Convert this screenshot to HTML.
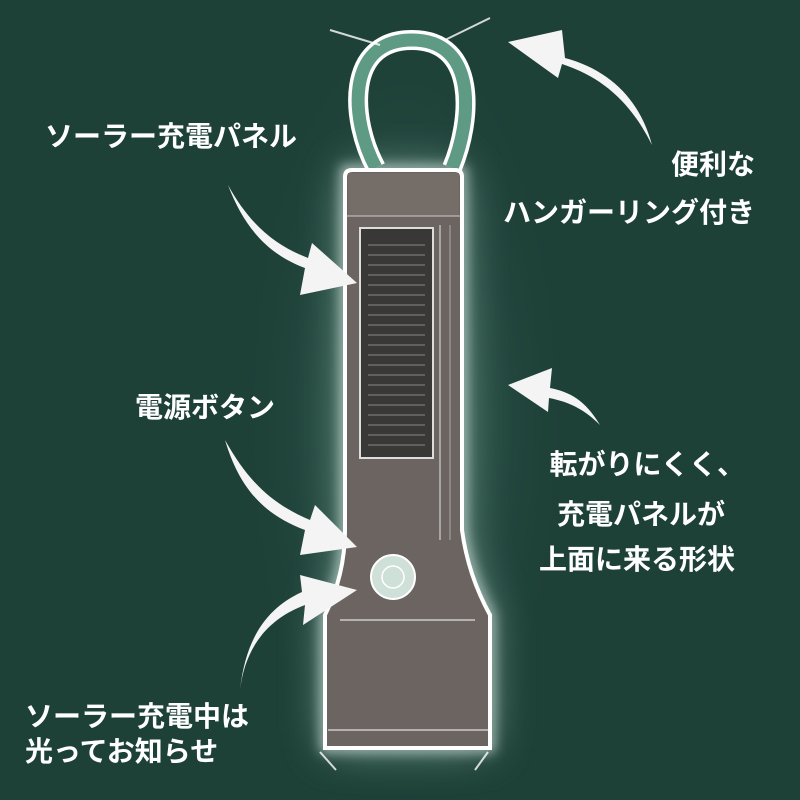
<!DOCTYPE html>
<html><head><meta charset="utf-8"><style>
html,body{margin:0;padding:0}
body{width:800px;height:800px;background:#1d4037;position:relative;overflow:hidden;font-family:"Liberation Sans","Noto Sans CJK JP",sans-serif}
.t{position:absolute;color:#fff;font-weight:bold;font-size:28px;line-height:36px;white-space:nowrap}
</style></head><body>
<svg width="800" height="800" style="position:absolute;left:0;top:0">
<defs>
<radialGradient id="g" cx="50%" cy="50%" r="50%">
<stop offset="0" stop-color="#4a776b" stop-opacity="0.9"/>
<stop offset="1" stop-color="#1d4037" stop-opacity="0"/>
</radialGradient>
<filter id="b" x="-50%" y="-50%" width="200%" height="200%"><feGaussianBlur stdDeviation="22"/></filter>
<filter id="b2" x="-50%" y="-50%" width="200%" height="200%"><feGaussianBlur stdDeviation="6"/></filter>
</defs>
<ellipse cx="405" cy="420" rx="170" ry="420" fill="url(#g)"/>
<path d="M345 170 H462 V530 Q468 575 490 615 V748 H325 V615 Q345 575 345 530 Z" fill="#86aaa0" filter="url(#b)" opacity="0.8"/>
<path d="M345 170 H462 V530 Q468 575 490 615 V748 H325 V615 Q345 575 345 530 Z" fill="none" stroke="#dfeee8" stroke-width="8" filter="url(#b2)" opacity="0.8"/>
<!-- ring -->
<path d="M376 168 C350 120 345 40 412 40 C478 40 472 120 452 168" fill="none" stroke="#fff" stroke-width="20"/>
<path d="M376 168 C350 120 345 40 412 40 C478 40 472 120 452 168" fill="none" stroke="#5e9a84" stroke-width="13"/>
<!-- body -->
<path d="M352 170 H455 Q462 170 462 177 V530 Q468 575 490 615 V748 H325 V615 Q345 575 345 530 V177 Q345 170 352 170 Z" fill="#6b6460" stroke="#fff" stroke-width="4"/>
<rect x="348" y="173" width="111" height="43" fill="#746d68"/>
<line x1="347" y1="216" x2="460" y2="216" stroke="#ccc" stroke-width="1"/>
<line x1="440" y1="225" x2="440" y2="540" stroke="#bbb" stroke-width="1.5"/>
<line x1="450" y1="225" x2="450" y2="540" stroke="#aaa" stroke-width="1"/>
<rect x="360" y="228" width="73" height="230" fill="#3a3836" stroke="#ddd" stroke-width="2"/>
<g stroke="#777" stroke-width="1.2">
<line x1="368" y1="245" x2="425" y2="245"/><line x1="368" y1="255" x2="425" y2="255"/><line x1="368" y1="265" x2="425" y2="265"/><line x1="368" y1="275" x2="425" y2="275"/><line x1="368" y1="285" x2="425" y2="285"/><line x1="368" y1="295" x2="425" y2="295"/><line x1="368" y1="305" x2="425" y2="305"/><line x1="368" y1="315" x2="425" y2="315"/><line x1="368" y1="325" x2="425" y2="325"/><line x1="368" y1="335" x2="425" y2="335"/><line x1="368" y1="345" x2="425" y2="345"/><line x1="368" y1="355" x2="425" y2="355"/><line x1="368" y1="365" x2="425" y2="365"/><line x1="368" y1="375" x2="425" y2="375"/><line x1="368" y1="385" x2="425" y2="385"/><line x1="368" y1="395" x2="425" y2="395"/><line x1="368" y1="405" x2="425" y2="405"/><line x1="368" y1="415" x2="425" y2="415"/><line x1="368" y1="425" x2="425" y2="425"/><line x1="368" y1="435" x2="425" y2="435"/><line x1="368" y1="445" x2="425" y2="445"/>
</g>
<line x1="340" y1="620" x2="475" y2="620" stroke="#ccc" stroke-width="1.5"/>
<line x1="328" y1="730" x2="488" y2="730" stroke="#ccc" stroke-width="1.5"/>
<circle cx="393" cy="577" r="22" fill="#cfe0d8" stroke="#fff" stroke-width="2"/>
<circle cx="393" cy="577" r="11" fill="none" stroke="#fff" stroke-width="1.5"/>
<!-- arrows -->
<g fill="#f4f4f4">
<path d="M652 145 C640 100 610 70 565 58 L562 30 L508 42 L558 78 L562 64 C605 78 632 105 652 145 Z"/>
<path d="M228 185 C245 230 270 255 305 268 L300 295 L357 283 L312 243 L308 258 C275 245 250 225 228 185 Z"/>
<path d="M225 440 C240 490 265 515 305 530 L300 555 L357 547 L315 505 L310 520 C275 505 250 485 225 440 Z"/>
<path d="M240 690 C245 650 265 620 305 605 L303 625 L357 590 L300 575 L302 592 C262 610 245 645 240 690 Z"/>
<path d="M600 425 C585 400 570 392 550 388 L552 368 L508 385 L548 412 L549 398 C570 402 585 410 600 425 Z"/>
</g>
<path d="M320 752 L336 770 M488 752 L475 770 M330 30 L380 45 M490 18 L445 40" stroke="#fff" stroke-width="2" opacity="0.8"/>
</svg>
<div class="t" style="left:45px;top:119px">ソーラー充電パネル</div>
<div class="t" style="right:45px;top:147px">便利な</div>
<div class="t" style="right:45px;top:195px">ハンガーリング付き</div>
<div class="t" style="left:135px;top:390px">電源ボタン</div>
<div class="t" style="right:55px;top:447px">転がりにくく、</div>
<div class="t" style="right:75px;top:497px">充電パネルが</div>
<div class="t" style="right:65px;top:542px">上面に来る形状</div>
<div class="t" style="left:25px;top:699px">ソーラー充電中は</div>
<div class="t" style="left:25px;top:734px">光ってお知らせ</div>
</body></html>
